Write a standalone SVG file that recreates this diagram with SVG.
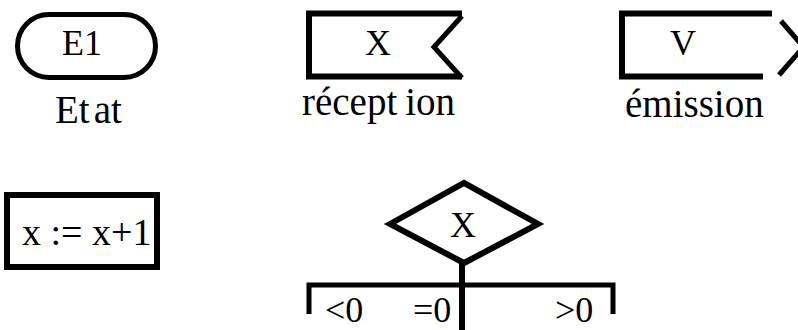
<svg xmlns="http://www.w3.org/2000/svg" width="798" height="330" viewBox="0 0 798 330">
<style>
.s{fill:none;stroke:#000;stroke-width:6;stroke-linejoin:miter}
text{font-family:'Liberation Serif','Tinos','DejaVu Serif',serif;fill:#000}
.t{font-size:36px}
.l{font-size:39px}
</style>
<rect width="798" height="330" fill="#fff"/>
<g id="etat">
<rect class="s" x="17.5" y="14.5" width="138" height="63" rx="31.5" style="stroke-width:5"/>
<text class="t" font-family="Liberation Serif" x="82" y="55" text-anchor="middle">E1</text>
<text class="l" font-family="Liberation Serif" x="55" y="123">Et<tspan dx="4">at</tspan></text>
</g>
<g id="reception">
<path class="s" d="M462,13.5 H309 V76.5 H462"/>
<path class="s" d="M462,16 L434,47 L462,78" style="stroke-width:5"/>
<text class="t" font-family="Liberation Serif" x="378" y="55" text-anchor="middle">X</text>
<text class="l" font-family="Liberation Serif" x="302" y="115">récept<tspan dx="8">ion</tspan></text>
</g>
<g id="emission">
<path class="s" d="M772,13.5 H622 V76.5 H763"/>
<path class="s" d="M781,21 L800,43" style="stroke-width:5"/>
<path class="s" d="M800,51 L779,75" style="stroke-width:5"/>
<text class="t" font-family="Liberation Serif" x="683" y="55" text-anchor="middle">V</text>
<text class="l" font-family="Liberation Serif" x="625" y="117">émission</text>
</g>
<g id="action">
<rect class="s" x="7" y="195" width="150" height="72"/>
<text class="t" font-family="Liberation Serif" x="22" y="245" style="font-size:38px">x := x+1</text>
</g>
<g id="decision">
<polygon class="s" points="390,224 464,183 538,224 464,263"/>
<text class="t" font-family="Liberation Serif" x="463" y="237" text-anchor="middle">X</text>
</g>
<g id="connectors">
<path class="s" d="M462,262 V330"/>
<path class="s" d="M309,314 V285 H613 V314" style="stroke-width:5"/>
</g>
<g id="labels">
<text class="t" font-family="Liberation Serif" x="325" y="322">&lt;0</text>
<text class="t" font-family="Liberation Serif" x="413" y="322">=0</text>
<text class="t" font-family="Liberation Serif" x="555" y="322">&gt;0</text>
</g>
</svg>
